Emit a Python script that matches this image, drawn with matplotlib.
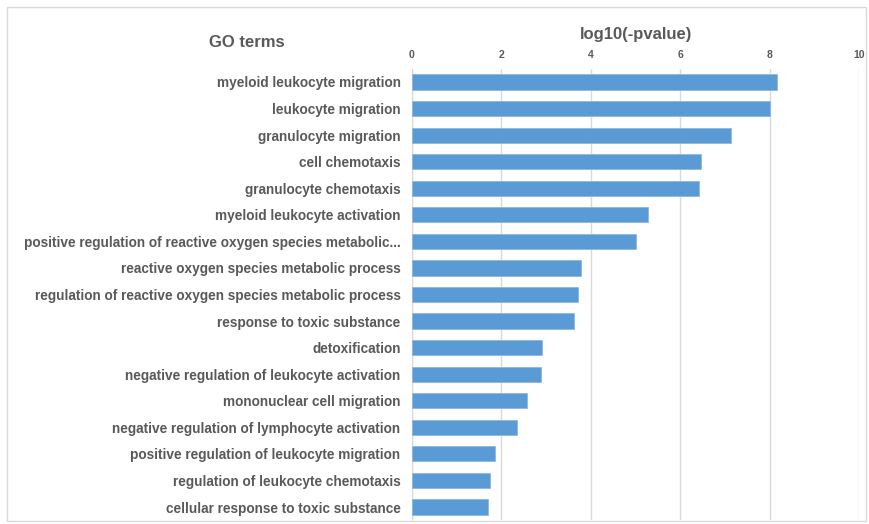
import matplotlib.pyplot as plt
from matplotlib.patches import Rectangle

# GO enrichment terms, top to bottom
terms = [
    "myeloid leukocyte migration",
    "leukocyte migration",
    "granulocyte migration",
    "cell chemotaxis",
    "granulocyte chemotaxis",
    "myeloid leukocyte activation",
    "positive regulation of reactive oxygen species metabolic...",
    "reactive oxygen species metabolic process",
    "regulation of reactive oxygen species metabolic process",
    "response to toxic substance",
    "detoxification",
    "negative regulation of leukocyte activation",
    "mononuclear cell migration",
    "negative regulation of lymphocyte activation",
    "positive regulation of leukocyte migration",
    "regulation of leukocyte chemotaxis",
    "cellular response to toxic substance",
]
log_p = [8.16, 8.01, 7.14, 6.46, 6.41, 5.28, 5.02, 3.79, 3.71, 3.63,
         2.91, 2.88, 2.58, 2.35, 1.86, 1.74, 1.71]
x_ticks = [0, 2, 4, 6, 8, 10]

plt.rcParams['font.family'] = ['Liberation Sans', 'DejaVu Sans']
text_col = '#595959'
grid_col = '#d9d9d9'

W, H = 869, 524
fig = plt.figure(figsize=(W / 100, H / 100), dpi=100)
ax = fig.add_axes([411.7 / W, 1 - 520.3 / H, (859.3 - 411.7) / W, (520.3 - 68.7) / H])

ypos = list(range(len(terms)))
ax.barh(ypos, log_p, height=0.57, color='#5b9bd5', edgecolor='#8bb8e3', linewidth=0.6, zorder=3)

ax.set_xlim(0, 10)
ax.set_ylim(len(terms) - 0.5, -0.5)
ax.set_xticks(x_ticks)
ax.xaxis.tick_top()
ax.tick_params(axis='x', length=0, pad=6, labelsize=7.5, labelcolor=text_col)
for lab in ax.get_xticklabels():
    lab.set_fontweight('bold')
ax.set_yticks(ypos)
ax.set_yticklabels(terms, fontsize=9.8, fontweight='bold', color=text_col)
ax.tick_params(axis='y', length=0, pad=8)

ax.grid(axis='x', color=grid_col, linewidth=1, zorder=0)
for s in ['top', 'right', 'bottom']:
    ax.spines[s].set_visible(False)
ax.spines['left'].set_color(grid_col)

fig.text(636 / W, 1 - 35 / H, "log10(-pvalue)", ha='center', va='center',
         fontsize=12, fontweight='bold', color=text_col)
fig.text(247 / W, 1 - 43 / H, "GO terms", ha='center', va='center',
         fontsize=12, fontweight='bold', color=text_col)

# chart area border
fig.patches.append(Rectangle((7 / W, 3 / H), 859 / W, 514 / H, transform=fig.transFigure,
                             fill=False, edgecolor=grid_col, linewidth=1))

fig.savefig('out.png', dpi=100)
